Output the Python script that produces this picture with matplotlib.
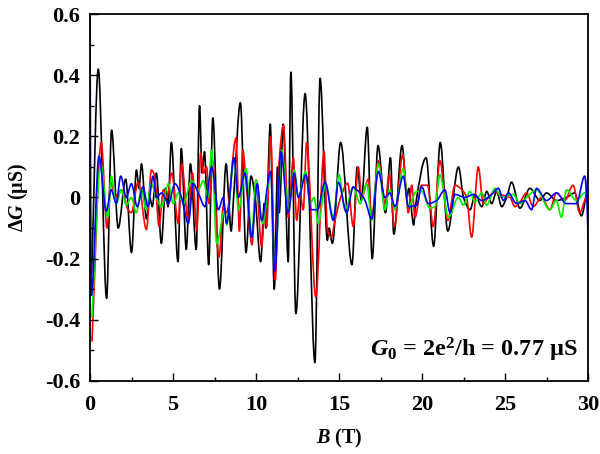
import matplotlib
matplotlib.use("Agg")
import matplotlib.pyplot as plt
from matplotlib.ticker import MultipleLocator
from matplotlib.path import Path
from matplotlib.patches import PathPatch

plt.rcParams['font.family'] = ['Liberation Serif', 'DejaVu Serif']
plt.rcParams['mathtext.fontset'] = 'custom'
plt.rcParams['mathtext.rm'] = 'Liberation Serif:bold'
plt.rcParams['mathtext.it'] = 'Liberation Serif:italic:bold'
plt.rcParams['mathtext.bf'] = 'Liberation Serif:bold'

# ---- data (B in tesla, dG in microsiemens) ----
black_B = [0.1, 0.5, 1.0, 1.3, 1.7, 2.15, 2.5, 2.8, 2.95, 3.1, 3.4, 3.6, 3.75, 4.0, 4.3, 4.55, 4.7,
           4.9, 5.3, 5.5, 5.8, 6.05, 6.4, 6.6, 6.75, 6.9, 7.15, 7.4, 7.8, 8.2, 8.35, 8.5, 8.65,
           9.06, 9.4, 9.7, 9.95, 10.28, 10.5, 10.6, 10.86, 11.1, 11.3, 11.4, 11.64, 11.94,
           12.1, 12.4, 12.96, 13.55, 13.86, 14.3, 14.4, 14.6, 15.1, 15.78, 16.1, 16.35, 16.7,
           17.0, 17.35, 17.8, 18.1, 18.3, 18.8, 19.1, 19.2, 19.5, 19.6, 20.25, 20.7, 21.1, 21.55,
           22.2, 22.5, 22.9, 23.2, 23.6, 23.9, 24.2, 24.5, 24.8, 25.1, 25.4, 25.9, 26.5, 27.1,
           27.5, 28.1, 28.7, 29.2, 29.6, 29.9, 30.0]
black_G = [-0.25, 0.42, -0.33, 0.22, -0.10, 0.06, -0.18, 0.09, 0.03, 0.11, -0.07, 0.0, -0.03, 0.08, -0.15, 0.03, -0.03,
           0.18, -0.21, 0.16, -0.17, 0.11, -0.17, 0.30, 0.08, 0.15, -0.22, 0.26, -0.30, 0.11, 0.0, -0.11, 0.0,
           0.31, -0.18, 0.07, 0.0, -0.21, -0.02, -0.10, 0.24, -0.30, 0.10, -0.05, 0.24, -0.21,
           0.41, -0.38, 0.34, -0.54, 0.39, -0.14, -0.10, -0.15, 0.18, -0.22, 0.10, -0.01, 0.23,
           -0.20, 0.17, -0.05, 0.13, -0.12, 0.17, 0.0, 0.03, -0.09, -0.03, 0.13, -0.16, 0.18, -0.11,
           0.10, 0.0, -0.04, 0.01, -0.03, 0.02, -0.02, 0.02, -0.03, 0.0, 0.05, -0.035, 0.03, -0.01,
           0.015, -0.01, 0.0, 0.015, -0.06, 0.015, 0.07]

red_B = [0.12, 0.68, 1.02, 1.25, 1.49, 1.9, 2.29, 2.49, 2.9, 3.4, 3.7, 3.9, 4.16, 4.42, 4.62, 4.92,
         5.32, 5.52, 5.92, 6.17, 6.43, 6.67, 6.83, 7.03, 7.17, 7.38, 7.77, 8.03, 8.23, 8.8, 9.0,
         9.2, 9.44, 9.76, 10.0, 10.34, 10.54, 10.64, 10.88, 11.16, 11.4, 11.65, 11.95, 12.25,
         12.45, 12.65, 12.85, 13.05, 13.6, 14.1, 14.3, 14.55, 14.72, 15.1, 15.52, 15.86, 16.16,
         16.37, 16.77, 16.97, 17.37, 17.77, 18.03, 18.33, 18.84, 19.18, 19.38, 19.58, 19.98,
         20.34, 20.68, 21.08, 21.55, 21.99, 22.49, 22.69, 22.99, 23.39, 23.69, 23.99, 24.4,
         24.7, 25.3, 25.6, 25.9, 26.3, 26.7, 27.2, 27.7, 28.1, 28.6, 29.1, 29.5, 29.8, 30.0]
red_G = [-0.47, 0.18, -0.10, 0.05, 0.0, 0.025, -0.04, -0.05, 0.05, -0.105, 0.09, 0.07, -0.095, 0.025, 0.0, 0.08,
         -0.085, 0.11, -0.075, 0.08, -0.105, 0.145, 0.08, 0.10, -0.02, 0.12, -0.195, -0.03, -0.05, 0.195, -0.11,
         0.155, 0.025, -0.155, 0.057, -0.16, -0.04, -0.095, 0.20, -0.27, 0.12, 0.235, -0.065, 0.13,
         -0.075, 0.015, -0.04, 0.18, -0.325, 0.15, -0.105, -0.13, -0.085, 0.0, 0.047, -0.095, 0.10,
         0.0, 0.06, -0.065, 0.12, -0.02, 0.075, -0.095, 0.14, -0.05, 0.04, -0.065, 0.04,
         0.04, -0.095, 0.12, -0.075, 0.04, 0.02, 0.0, -0.13, 0.10, -0.02, 0.0, 0.02,
         0.01, 0.0, -0.03, -0.015, 0.015, -0.03, 0.0, -0.04, 0.015, -0.01, 0.04, -0.05, -0.01, 0.015]

green_B = [0.12, 0.64, 1.08, 1.28, 1.58, 1.89, 2.19, 2.49, 2.79, 3.09, 3.39, 3.69, 3.99, 4.32, 4.72,
           5.02, 5.32, 5.62, 6.12, 6.52, 6.83, 7.09, 7.33, 7.63, 8.13, 8.23, 8.67, 8.94, 9.4, 9.74,
           10.0, 10.4, 10.88, 11.14, 11.55, 11.95, 12.31, 12.55, 12.99, 13.25, 13.5, 13.75, 14.2,
           14.66, 15.0, 15.36, 15.86, 15.96, 16.27, 16.67, 16.97, 17.37, 17.77, 18.03, 18.37,
           18.87, 19.18, 19.68, 19.98, 20.48, 20.78, 21.08, 21.59, 22.19, 22.49, 22.89, 23.19,
           23.6, 23.9, 24.4, 24.8, 25.5, 25.9, 26.3, 26.9, 27.7, 28.1, 28.4, 28.7, 29.3, 29.8, 30.0]
green_G = [-0.39, 0.11, -0.065, 0.07, -0.02, 0.025, -0.025, 0.0, -0.05, 0.025, -0.04, 0.045, 0.0, -0.03, 0.045,
           -0.02, 0.015, -0.02, 0.055, 0.025, 0.055, 0.0, 0.155, -0.15, -0.04, -0.09, 0.12, -0.04, 0.095, -0.13,
           0.057, -0.085, 0.08, -0.225, 0.155, -0.04, 0.09, 0.0, 0.085, -0.02, 0.0, -0.085, 0.045,
           -0.065, 0.075, -0.04, 0.035, 0.025, -0.02, 0.045, -0.075, 0.11, -0.04, 0.025, -0.04,
           0.095, -0.03, 0.02, 0.02, -0.035, -0.03, 0.075, -0.065, 0.0, -0.025, 0.02, -0.015,
           0.015, -0.025, 0.03, 0.0, 0.01, -0.02, 0.0, 0.025, -0.04, -0.01, -0.065, 0.025, -0.01, 0.015, 0.0]

blue_B = [0.0, 0.02, 0.08, 0.54, 0.98, 1.28, 1.58, 1.85, 2.19, 2.49, 2.85, 3.19, 3.49, 3.8, 4.0, 4.32,
          4.72, 5.12, 5.52, 5.92, 6.22, 6.52, 6.93, 7.33, 7.73, 8.03, 8.23, 8.67, 8.94, 9.34, 9.74,
          10.08, 10.34, 10.88, 11.14, 11.5, 11.93, 12.31, 12.55, 13.01, 13.31, 13.7, 14.16, 14.66,
          14.96, 15.46, 15.86, 15.96, 16.27, 16.57, 16.97, 17.37, 17.77, 18.07, 18.37, 18.87, 19.18,
          19.68, 19.98, 20.38, 20.88, 21.38, 21.69, 21.99, 22.59, 23.09, 23.6, 24.2, 24.6, 24.9,
          25.2, 25.7, 26.2, 26.6, 26.9, 27.5, 28.1, 28.7, 29.3, 29.8, 29.95, 30.0]
blue_G = [0.6, 0.3, -0.32, 0.135, -0.045, 0.025, -0.02, 0.07, 0.0, 0.045, -0.03, 0.035, -0.03, 0.07, 0.0, 0.015,
          -0.02, 0.045, 0.0, -0.085, 0.045, 0.015, -0.03, 0.10, -0.04, 0.0, -0.085, 0.13, 0.0, 0.08, -0.13,
          0.045, -0.075, 0.085, -0.24, 0.15, -0.05, 0.08, 0.0, 0.075, -0.04, -0.04, 0.05, -0.075,
          0.05, -0.05, 0.035, 0.03, 0.015, -0.01, -0.07, 0.085, 0.0, 0.015, -0.03, 0.07, -0.03,
          -0.025, 0.035, -0.02, -0.01, 0.025, -0.05, 0.01, 0.0, 0.01, -0.01, 0.01, 0.03, -0.01,
          0.015, -0.02, -0.01, -0.04, 0.03, -0.01, 0.015, -0.02, -0.02, 0.07, -0.03, -0.14]

xticks = [0, 5, 10, 15, 20, 25, 30]
yticks = [-0.6, -0.4, -0.2, 0, 0.2, 0.4, 0.6]
ytick_labels = ['-0.6', '-0.4', '-0.2', '0', '0.2', '0.4', '0.6']


def smooth_curve(ax, xs, ys, color, lw):
    """Draw a smooth curve through the read points (shape-preserving Hermite
    segments rendered as Bezier curves in data coordinates)."""
    n = len(xs)
    sec = [(ys[i + 1] - ys[i]) / (xs[i + 1] - xs[i]) for i in range(n - 1)]
    m = [0.0] * n
    m[0] = sec[0]
    m[-1] = sec[-1]
    for i in range(1, n - 1):
        a, b = sec[i - 1], sec[i]
        if a * b <= 0:
            m[i] = 0.0
        else:
            m[i] = 2.0 / (1.0 / a + 1.0 / b)
    verts = [(xs[0], ys[0])]
    codes = [Path.MOVETO]
    for i in range(n - 1):
        dx = xs[i + 1] - xs[i]
        verts += [(xs[i] + dx / 3, ys[i] + m[i] * dx / 3),
                  (xs[i + 1] - dx / 3, ys[i + 1] - m[i + 1] * dx / 3),
                  (xs[i + 1], ys[i + 1])]
        codes += [Path.CURVE4] * 3
    patch = PathPatch(Path(verts, codes), facecolor='none', edgecolor=color,
                      lw=lw, transform=ax.transData, capstyle='round', joinstyle='round')
    ax.add_patch(patch)


fig = plt.figure(figsize=(6.0, 4.54), dpi=100)
ax = fig.add_axes([0.15, 0.161, 0.83, 0.808])

lw = 1.2
smooth_curve(ax, black_B, black_G, 'black', lw)
smooth_curve(ax, red_B, red_G, '#ff0000', lw)
smooth_curve(ax, green_B, green_G, '#00ee00', lw)
smooth_curve(ax, blue_B, blue_G, '#0000ff', lw)

ax.set_xlim(0, 30)
ax.set_ylim(-0.6, 0.6)
ax.set_xticks(xticks)
ax.set_xticklabels([str(t) for t in xticks])
ax.set_yticks(yticks)
ax.set_yticklabels(ytick_labels)
ax.xaxis.set_minor_locator(MultipleLocator(2.5))
ax.yaxis.set_minor_locator(MultipleLocator(0.1))
ax.tick_params(which='both', direction='in', top=False, right=False, width=1.0)
ax.tick_params(which='major', length=6, labelsize=16)
ax.tick_params(axis='x', which='major', pad=10)
ax.tick_params(axis='y', which='major', pad=7)
ax.tick_params(which='minor', length=3)
for lab in ax.get_xticklabels() + ax.get_yticklabels():
    lab.set_fontweight('bold')
for s in ax.spines.values():
    s.set_linewidth(1.3)

ax.set_xlabel(r'$\mathit{B}$ (T)', fontsize=14.5, fontweight='bold', labelpad=9)
ax.set_ylabel(r'$\Delta\mathit{G}$ ($\mathrm{\mu}$S)', fontsize=14.5, fontweight='bold', labelpad=11)

ax.text(0.978, 0.085, r'$\mathit{G}_{0}$ = 2e$^{2}$/h = 0.77 $\mathrm{\mu}$S', transform=ax.transAxes,
        ha='right', va='center', fontsize=17.5, fontweight='bold')

fig.savefig('out.png', dpi=100)
